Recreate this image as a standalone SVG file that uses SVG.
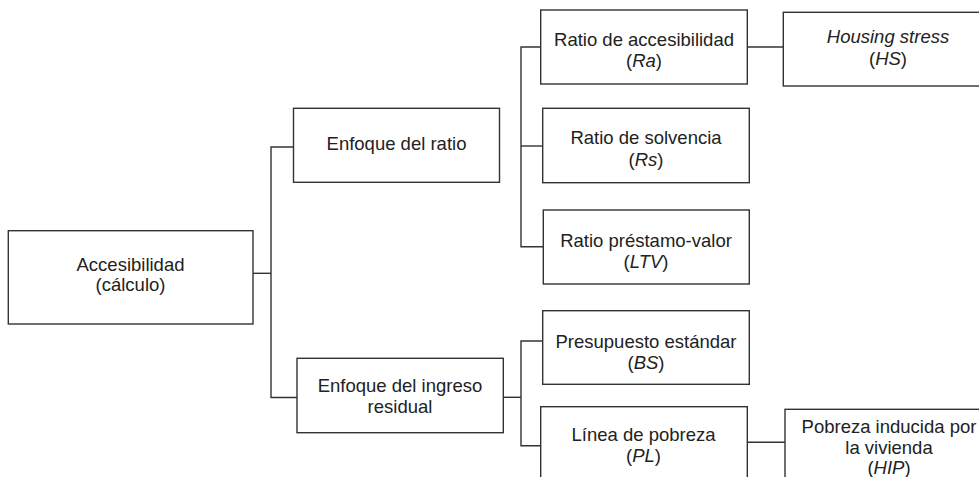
<svg xmlns="http://www.w3.org/2000/svg" width="979" height="477" viewBox="0 0 979 477">
<style>
.box{fill:#fff;stroke:#333;stroke-width:1.4}
.c{fill:none;stroke:#333;stroke-width:1.4}
text{font-family:"Liberation Sans",Arial,sans-serif;font-size:18.5px;fill:#222;text-anchor:middle}
.i{font-style:italic}
</style>
<rect width="979" height="477" fill="#fff"/>
<g id="connectors">
<polyline class="c" points="253,273.3 271,273.3"/>
<polyline class="c" points="293.5,147 271,147 271,397.5 297,397.5"/>
<polyline class="c" points="540.7,47 521,47 521,246.7 543.3,246.7"/>
<polyline class="c" points="521,146 542.7,146"/>
<polyline class="c" points="747.3,47 783.3,47"/>
<polyline class="c" points="503.3,397.3 521,397.3"/>
<polyline class="c" points="542.7,341 521,341 521,445.7 540.7,445.7"/>
<polyline class="c" points="747.3,442.3 785,442.3"/>
</g>
<g id="n-accesibilidad">
<rect class="box" x="8.3" y="230.7" width="244.7" height="93.3"/>
<text x="130.5" y="270.5">Accesibilidad</text>
<text x="130.5" y="290.5">(cálculo)</text>
</g>
<g id="n-enfoque-ratio">
<rect class="box" x="293.5" y="108.3" width="206" height="74"/>
<text x="396.5" y="150">Enfoque del ratio</text>
</g>
<g id="n-enfoque-ingreso">
<rect class="box" x="297" y="358.3" width="206.3" height="74.4"/>
<text x="400" y="392.3">Enfoque del ingreso</text>
<text x="400" y="413.3">residual</text>
</g>
<g id="n-ra">
<rect class="box" x="540.7" y="10" width="206.6" height="74"/>
<text x="644" y="46">Ratio de accesibilidad</text>
<text x="644" y="66.5">(<tspan class="i">Ra</tspan>)</text>
</g>
<g id="n-hs">
<rect class="box" x="783.3" y="12.3" width="210" height="73.7"/>
<text x="888" y="42.7" class="i">Housing stress</text>
<text x="888" y="64.5">(<tspan class="i">HS</tspan>)</text>
</g>
<g id="n-rs">
<rect class="box" x="542.7" y="108.3" width="206.6" height="74.4"/>
<text x="646" y="144">Ratio de solvencia</text>
<text x="646" y="166">(<tspan class="i">Rs</tspan>)</text>
</g>
<g id="n-ltv">
<rect class="box" x="543.3" y="210" width="206" height="74"/>
<text x="646" y="246.7">Ratio préstamo-valor</text>
<text x="646" y="267.5">(<tspan class="i">LTV</tspan>)</text>
</g>
<g id="n-bs">
<rect class="box" x="542.7" y="310.7" width="206.6" height="73.6"/>
<text x="646" y="347.7">Presupuesto estándar</text>
<text x="646" y="368.5">(<tspan class="i">BS</tspan>)</text>
</g>
<g id="n-pl">
<rect class="box" x="540.7" y="406.7" width="206.6" height="80"/>
<text x="643.5" y="440.7">Línea de pobreza</text>
<text x="643.5" y="461.8">(<tspan class="i">PL</tspan>)</text>
</g>
<g id="n-hip">
<rect class="box" x="785" y="409.3" width="210" height="80"/>
<text x="889" y="433.3">Pobreza inducida por</text>
<text x="889" y="453.7">la vivienda</text>
<text x="889" y="473.7">(<tspan class="i">HIP</tspan>)</text>
</g>
</svg>
